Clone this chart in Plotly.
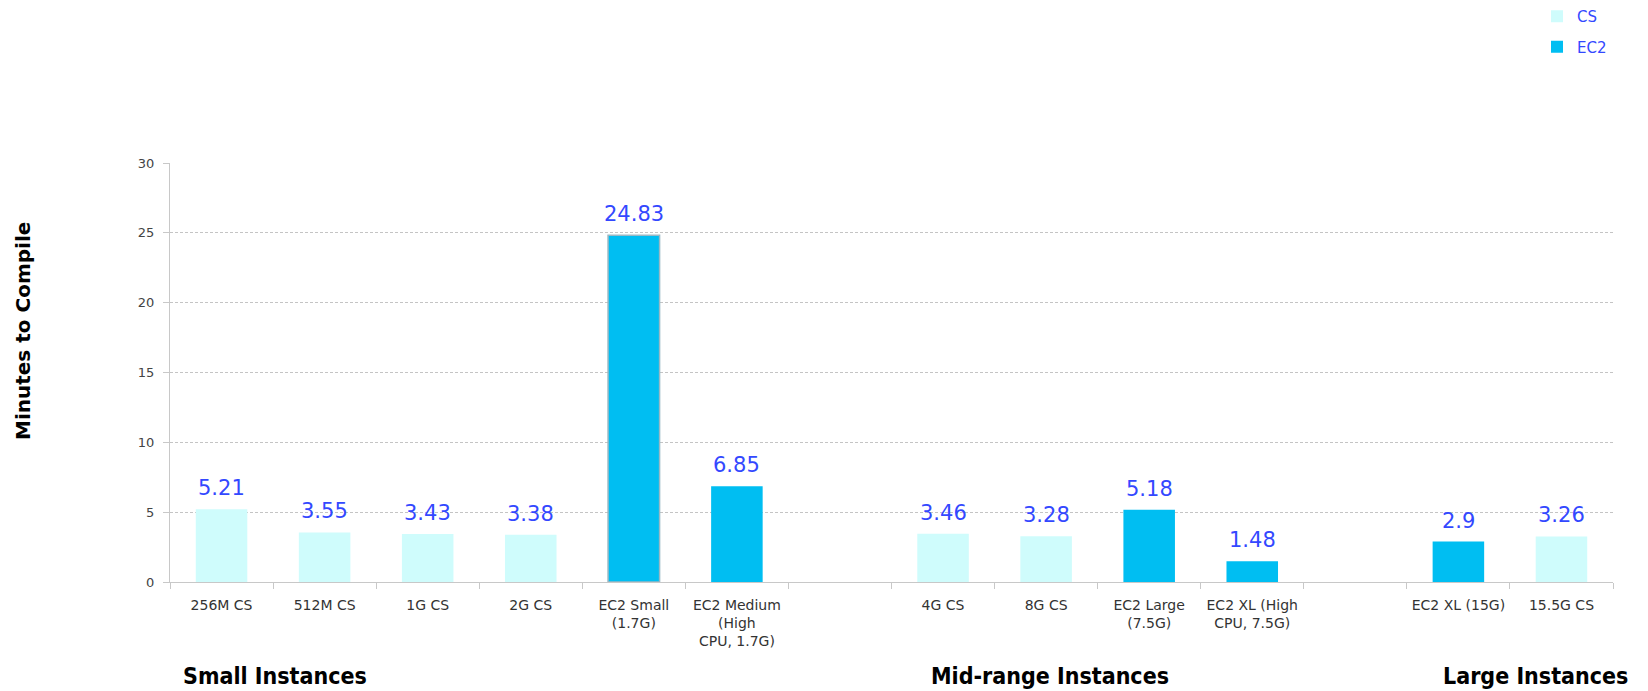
import plotly.graph_objects as go

# ---- data ----
categories = [
    "256M CS", "512M CS", "1G CS", "2G CS",
    "EC2 Small<br>(1.7G)", "EC2 Medium<br>(High<br>CPU, 1.7G)",
    " ",
    "4G CS", "8G CS", "EC2 Large<br>(7.5G)", "EC2 XL (High<br>CPU, 7.5G)",
    "  ",
    "EC2 XL (15G)", "15.5G CS",
]
cs_values = [5.21, 3.55, 3.43, 3.38, None, None, None,
             3.46, 3.28, None, None, None, None, 3.26]
ec2_values = [None, None, None, None, 24.83, 6.85, None,
              None, None, 5.18, 1.48, None, 2.9, None]
group_labels = ["Small Instances", "Mid-range Instances", "Large Instances"]
y_ticks = [0, 5, 10, 15, 20, 25, 30]

# ---- layout geometry (pixels) ----
W, H = 1648, 691
L, R, T, B = 170, 35, 163, 109
PW, PH = W - L - R, H - T - B


def px_x(x):
    return (x - L) / PW


def px_y(y):
    return (H - B - y) / PH


CS_COLOR = "#CFFCFC"
EC2_COLOR = "#00BEF2"
LABEL_COLOR = "#3348FF"
FONT = "DejaVu Sans"

# the tallest EC2 bar has a thin grey outline in the original
ec2_outline = [1.5 if c.startswith("EC2 Small") else 0 for c in categories]

fig = go.Figure()
fig.add_trace(go.Bar(
    name="CS", x=categories, y=cs_values, marker_color=CS_COLOR,
    marker_line_width=0, legendgroup="cs",
))
fig.add_trace(go.Bar(
    name="EC2", x=categories, y=ec2_values, marker_color=EC2_COLOR,
    marker_line=dict(width=ec2_outline, color="#9ab8c4"), legendgroup="ec2",
))

annotations = []
for series in (cs_values, ec2_values):
    for cat, v in zip(categories, series):
        if v is None:
            continue
        annotations.append(dict(
            x=cat, y=v, xref="x", yref="y", text=f"{v:g}",
            showarrow=False, yanchor="bottom", yshift=7,
            font=dict(family=FONT, size=21, color=LABEL_COLOR),
        ))

group_pos = [275, 1050, 1535]
for lab, gx in zip(group_labels, group_pos):
    annotations.append(dict(
        x=px_x(gx), y=px_y(676), xref="paper", yref="paper",
        text=f"<b>{lab}</b>", showarrow=False,
        xanchor="center", yanchor="middle",
        font=dict(family="DejaVu Sans Condensed", size=23, color="#000000"),
    ))

annotations.append(dict(
    x=px_x(23), y=px_y(331), xref="paper", yref="paper",
    text="<b>Minutes to Compile</b>", showarrow=False, textangle=-90,
    xanchor="center", yanchor="middle",
    font=dict(family=FONT, size=20, color="#000000"),
))

fig.update_layout(
    width=W, height=H,
    margin=dict(l=L, r=R, t=T, b=B, pad=0, autoexpand=False),
    paper_bgcolor="white", plot_bgcolor="white",
    barmode="overlay", bargap=0.5,
    font=dict(family=FONT, size=13, color="#333333"),
    showlegend=True,
    legend=dict(
        xref="container", yref="container",
        x=1537 / W, y=1 - 0 / H, xanchor="left", yanchor="top",
        traceorder="grouped", tracegroupgap=8,
        font=dict(family=FONT, size=15, color=LABEL_COLOR),
        bgcolor="rgba(0,0,0,0)", borderwidth=0,
    ),
    annotations=annotations,
    xaxis=dict(
        type="category", categoryorder="array", categoryarray=categories,
        showline=True, linecolor="#c8c8c8", linewidth=1,
        ticks="outside", tickson="boundaries", ticklen=6,
        tickcolor="#c8c8c8", showgrid=False, zeroline=False,
        tickfont=dict(family=FONT, size=14, color="#333333"),
        ticklabelstandoff=10,
    ),
    yaxis=dict(
        range=[0, 30], tickvals=y_ticks,
        showline=True, linecolor="#c8c8c8", linewidth=1,
        ticks="outside", ticklen=6, tickcolor="#c8c8c8",
        showgrid=True, gridcolor="#c4c4c4", griddash="3px,2px",
        gridwidth=1, zeroline=False,
        tickfont=dict(family=FONT, size=13, color="#444444"),
        ticklabelstandoff=6,
    ),
)

fig.write_html("out.html")
